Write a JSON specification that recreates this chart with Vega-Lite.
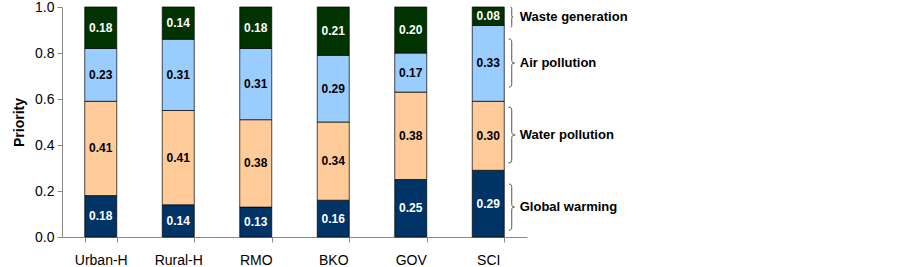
{
  "$schema": "https://vega.github.io/schema/vega-lite/v6.json",
  "width": 465,
  "height": 230,
  "autosize": {"type": "none"},
  "padding": {"left": 62, "top": 7, "right": 376, "bottom": 30},
  "background": "white",
  "config": {
    "view": {"stroke": null},
    "font": "Liberation Sans",
    "axis": {"labelFont": "Liberation Sans", "titleFont": "Liberation Sans", "domainColor": "#888888", "tickColor": "#888888", "labelColor": "#000000", "titleColor": "#000000", "grid": false}
  },
  "datasets": {
    "main": [
      {"cat": "Urban-H", "topic": "Global warming", "value": 0.18},
      {"cat": "Urban-H", "topic": "Water pollution", "value": 0.41},
      {"cat": "Urban-H", "topic": "Air pollution", "value": 0.23},
      {"cat": "Urban-H", "topic": "Waste generation", "value": 0.18},
      {"cat": "Rural-H", "topic": "Global warming", "value": 0.14},
      {"cat": "Rural-H", "topic": "Water pollution", "value": 0.41},
      {"cat": "Rural-H", "topic": "Air pollution", "value": 0.31},
      {"cat": "Rural-H", "topic": "Waste generation", "value": 0.14},
      {"cat": "RMO", "topic": "Global warming", "value": 0.13},
      {"cat": "RMO", "topic": "Water pollution", "value": 0.38},
      {"cat": "RMO", "topic": "Air pollution", "value": 0.31},
      {"cat": "RMO", "topic": "Waste generation", "value": 0.18},
      {"cat": "BKO", "topic": "Global warming", "value": 0.16},
      {"cat": "BKO", "topic": "Water pollution", "value": 0.34},
      {"cat": "BKO", "topic": "Air pollution", "value": 0.29},
      {"cat": "BKO", "topic": "Waste generation", "value": 0.21},
      {"cat": "GOV", "topic": "Global warming", "value": 0.25},
      {"cat": "GOV", "topic": "Water pollution", "value": 0.38},
      {"cat": "GOV", "topic": "Air pollution", "value": 0.17},
      {"cat": "GOV", "topic": "Waste generation", "value": 0.20},
      {"cat": "SCI", "topic": "Global warming", "value": 0.29},
      {"cat": "SCI", "topic": "Water pollution", "value": 0.30},
      {"cat": "SCI", "topic": "Air pollution", "value": 0.33},
      {"cat": "SCI", "topic": "Waste generation", "value": 0.08}
    ],
    "annot": [
      {"cat": "SCI", "label": "Waste generation", "lo": 0.913, "hi": 1.0},
      {"cat": "SCI", "label": "Air pollution", "lo": 0.652, "hi": 0.861},
      {"cat": "SCI", "label": "Water pollution", "lo": 0.322, "hi": 0.565},
      {"cat": "SCI", "label": "Global warming", "lo": 0.03, "hi": 0.23}
    ]
  },
  "layer": [
    {
      "data": {"name": "main"},
      "transform": [
        {"calculate": "indexof(['Global warming','Water pollution','Air pollution','Waste generation'], datum.topic)", "as": "ord"},
        {"stack": "value", "groupby": ["cat"], "sort": [{"field": "ord", "order": "ascending"}], "as": ["y0", "y1"]},
        {"calculate": "(datum.y0 + datum.y1) / 2", "as": "mid"}
      ],
      "encoding": {
        "x": {
          "field": "cat", "type": "nominal",
          "sort": ["Urban-H", "Rural-H", "RMO", "BKO", "GOV", "SCI"],
          "scale": {"paddingInner": 0.587, "paddingOuter": 0.2935},
          "axis": {"title": null, "labelAngle": 0, "labelFontSize": 14, "labelPadding": 11, "tickSize": 5, "tickBand": "extent", "labelBaseline": "top"}
        }
      },
      "layer": [
        {
          "mark": {"type": "bar", "stroke": "#000000", "strokeWidth": 0.7},
          "encoding": {
            "y": {
              "field": "y0", "type": "quantitative",
              "scale": {"domain": [0, 1], "nice": false},
              "axis": {"title": "Priority", "titleFontSize": 14, "titleFontWeight": "bold", "titlePadding": 8, "values": [0, 0.2, 0.4, 0.6, 0.8, 1.0], "format": ".1f", "labelFontSize": 14, "tickSize": 5, "labelPadding": 3}
            },
            "y2": {"field": "y1"},
            "color": {
              "field": "topic", "type": "nominal",
              "scale": {"domain": ["Global warming", "Water pollution", "Air pollution", "Waste generation"], "range": ["#003366", "#FFCC99", "#99CCFF", "#003300"]},
              "legend": null
            }
          }
        },
        {
          "mark": {"type": "text", "fontSize": 12, "fontWeight": "bold", "baseline": "middle", "align": "center"},
          "encoding": {
            "y": {"field": "mid", "type": "quantitative"},
            "text": {"field": "value", "type": "quantitative", "format": ".2f"},
            "color": {"condition": {"test": "datum.topic === 'Global warming' || datum.topic === 'Waste generation'", "value": "#ffffff"}, "value": "#000000"}
          }
        }
      ]
    },
    {
      "data": {"name": "annot"},
      "transform": [
        {"calculate": "(datum.lo + datum.hi) / 2", "as": "mid"},
        {"calculate": "datum.hi - datum.lo", "as": "span"}
      ],
      "encoding": {
        "x": {"field": "cat", "type": "nominal", "sort": ["Urban-H", "Rural-H", "RMO", "BKO", "GOV", "SCI"], "bandPosition": 1.234},
        "y": {"field": "mid", "type": "quantitative"}
      },
      "layer": [
        {
          "mark": {"type": "point", "filled": false, "opacity": 1, "stroke": "#555555", "strokeWidth": 1,
            "shape": "M -0.12 -1 C -0.02 -1 0 -0.96 0 -0.86 L 0 -0.12 C 0 -0.03 0.04 0 0.12 0 C 0.04 0 0 0.03 0 0.12 L 0 0.86 C 0 0.96 -0.02 1 -0.12 1"},
          "encoding": {
            "size": {"field": "span", "type": "quantitative", "scale": {"type": "pow", "exponent": 2, "domain": [0, 1], "range": [0, 52900]}, "legend": null}
          }
        },
        {
          "mark": {"type": "text", "align": "left", "baseline": "middle", "dx": 8, "fontSize": 13, "fontWeight": "bold", "color": "#000000"},
          "encoding": {
            "text": {"field": "label", "type": "nominal"}
          }
        }
      ]
    }
  ]
}
